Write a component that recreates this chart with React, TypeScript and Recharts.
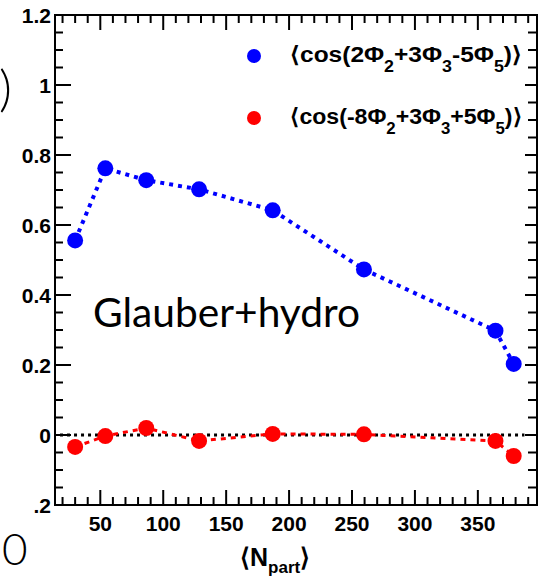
import React from "react";
import { ComposedChart, Line, XAxis, YAxis, ReferenceArea } from "recharts";

// <N_part> of each centrality bin
const nPart = [30, 54, 86.5, 128.5, 187, 259.5, 364, 378.5];
// <cos(2Φ2+3Φ3-5Φ5)>
const blueVals = [0.556, 0.762, 0.728, 0.702, 0.642, 0.473, 0.298, 0.203];
// <cos(-8Φ2+3Φ3+5Φ5)>
const redVals = [-0.034, -0.003, 0.02, -0.017, 0.003, 0.002, -0.017, -0.06];
// dotted zero reference
const zeroX = [18, 387];
const zeroY = [0, 0];

const xMajor = [50, 100, 150, 200, 250, 300, 350];
const yMajor = [-0.2, 0, 0.2, 0.4, 0.6, 0.8, 1, 1.2];
const yLabels = [".2", "0", "0.2", "0.4", "0.6", "0.8", "1", "1.2"];

const xTicks = Array.from({ length: 38 }, (_, i) => 20 + i * 10);
const yTicks = Array.from({ length: 29 }, (_, i) => Math.round((-0.2 + i * 0.05) * 100) / 100);

const blueData = nPart.map((x, i) => ({ x, y: blueVals[i] }));
const redData = nPart.map((x, i) => ({ x, y: redVals[i] }));
const zeroData = zeroX.map((x, i) => ({ x, y: zeroY[i] }));

const W = 543;
const H = 576;
const L = 55;
const R = 537;
const T = 15;
const B = 505;
const BLUE = "#0000ff";
const RED = "#ff0000";
const FONT = "'Liberation Sans', Arial, sans-serif";

const isYMajor = (v: number) => yMajor.some((m) => Math.abs(m - v) < 1e-6);
const yLabel = (v: number) => yLabels[yMajor.findIndex((m) => Math.abs(m - v) < 1e-6)];

// left axis tick, also draws the matching tick on the right frame edge
function LeftTick(props: any) {
  const { y, payload } = props;
  const major = isYMajor(payload.value);
  return (
    <g>
      <line x1={L} x2={L + (major ? 16 : 8)} y1={y} y2={y} stroke="#000" strokeWidth={2} />
      <line x1={R} x2={R - (major ? 12 : 9)} y1={y} y2={y} stroke="#000" strokeWidth={2} />
      {major && (
        <text x={L - 4} y={y} textAnchor="end" dominantBaseline="central" fontFamily={FONT} fontWeight="bold" fontSize={21} fill="#000">
          {yLabel(payload.value)}
        </text>
      )}
    </g>
  );
}

// bottom axis tick, also draws the matching tick on the top frame edge
function BottomTick(props: any) {
  const { x, payload } = props;
  const major = xMajor.includes(payload.value);
  return (
    <g>
      <line x1={x} x2={x} y1={B} y2={B - (major ? 15 : 8)} stroke="#000" strokeWidth={2} />
      <line x1={x} x2={x} y1={T} y2={T + (major ? 15 : 8)} stroke="#000" strokeWidth={2} />
      {major && (
        <text x={x} y={B + 18} textAnchor="middle" dominantBaseline="central" fontFamily={FONT} fontWeight="bold" fontSize={21} fill="#000">
          {payload.value}
        </text>
      )}
    </g>
  );
}

function LegendLabel({ y, parts }: { y: number; parts: string[] }) {
  // parts: text, sub, text, sub, text, sub, text
  return (
    <text x={290} y={y} fontFamily={FONT} fontWeight="bold" fontSize={22} fill="#000" textLength={232} lengthAdjust="spacingAndGlyphs">
      {parts.map((p, i) =>
        i % 2 === 1 ? (
          <tspan key={i} dy={10} fontSize={16}>{p}</tspan>
        ) : (
          <tspan key={i} dy={i === 0 ? 0 : -10}>{p}</tspan>
        )
      )}
    </text>
  );
}

export default function App() {
  const axisLine = { stroke: "#000", strokeWidth: 2 };
  return (
    <div style={{ position: "absolute", left: 0, top: 0, width: W, height: H, background: "#fff" }}>
      <ComposedChart width={W} height={H} margin={{ top: T, right: W - R, bottom: 0, left: 0 }}>
        <XAxis
          dataKey="x"
          type="number"
          domain={[14, 397]}
          ticks={xTicks}
          interval={0}
          allowDataOverflow
          height={H - B}
          axisLine={axisLine}
          tickLine={false}
          tick={<BottomTick />}
        />
        <YAxis
          type="number"
          domain={[-0.2, 1.2]}
          ticks={yTicks}
          interval={0}
          allowDataOverflow
          width={L}
          axisLine={axisLine}
          tickLine={false}
          tick={<LeftTick />}
        />
        {/* plot frame */}
        <ReferenceArea x1={14} x2={397} y1={-0.2} y2={1.2} fill="none" stroke="#000" strokeWidth={2} ifOverflow="visible" />
        <Line
          data={zeroData}
          dataKey="y"
          stroke="#000"
          strokeWidth={3}
          strokeDasharray="3 4"
          dot={false}
          isAnimationActive={false}
        />
        <Line
          data={redData}
          dataKey="y"
          type="linear"
          stroke={RED}
          strokeWidth={3}
          strokeDasharray="5 5"
          dot={{ r: 8, fill: RED, stroke: RED, strokeWidth: 0 }}
          isAnimationActive={false}
        />
        <Line
          data={blueData}
          dataKey="y"
          type="linear"
          stroke={BLUE}
          strokeWidth={4}
          strokeDasharray="4 5"
          dot={{ r: 8, fill: BLUE, stroke: BLUE, strokeWidth: 0 }}
          isAnimationActive={false}
        />
      </ComposedChart>
      <svg width={W} height={H} style={{ position: "absolute", left: 0, top: 0, pointerEvents: "none" }}>
        <circle cx={254} cy={56} r={7} fill={BLUE} />
        <LegendLabel y={62} parts={["⟨cos(2Φ", "2", "+3Φ", "3", "-5Φ", "5", ")⟩"]} />
        <circle cx={254} cy={118} r={7} fill={RED} />
        <LegendLabel y={124} parts={["⟨cos(-8Φ", "2", "+3Φ", "3", "+5Φ", "5", ")⟩"]} />
        <text x={93} y={327} fontFamily="Lato, 'Open Sans', sans-serif" fontSize={40} fill="#000" textLength={267} lengthAdjust="spacingAndGlyphs">
          Glauber+hydro
        </text>
        <text x={240} y={566} fontFamily={FONT} fontWeight="bold" fontSize={25} fill="#000">
          ⟨N<tspan dy={7} fontSize={17}>part</tspan><tspan dy={-7}>⟩</tspan>
        </text>
        <text x={-1} y={106} fontFamily="Lato, sans-serif" fontWeight={300} fontSize={50} fill="#000">)</text>
        <text x={2} y={565} fontFamily="Lato, sans-serif" fontWeight={300} fontSize={44} fill="#000">0</text>
      </svg>
    </div>
  );
}
